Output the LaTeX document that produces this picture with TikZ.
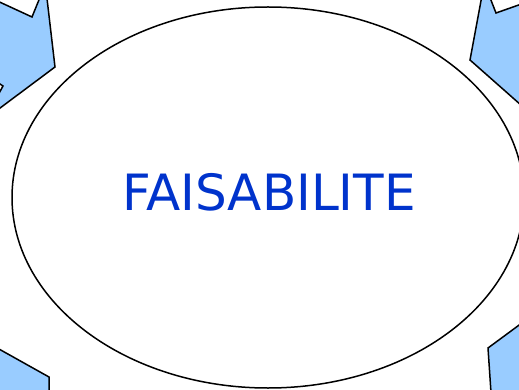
\documentclass[tikz,border=0pt]{standalone}
\usepackage{fontspec}
\setsansfont{DejaVu Sans}
\usetikzlibrary{shapes.geometric}
\definecolor{fblue}{RGB}{0,51,204}
\definecolor{flight}{RGB}{153,204,255}

\begin{document}
\begin{tikzpicture}[x=1pt,y=-1pt,
  fleche/.style={fill=flight,draw=black,line width=1.5pt,line join=miter},
  cadre/.style={ellipse,draw=black,line width=1.5pt,inner sep=0pt,
    minimum width=512pt,minimum height=381pt},
  titre/.style={font=\sffamily\fontsize{50}{50}\selectfont,text=fblue}
]
  \useasboundingbox (0,0) rectangle (519,390);
  \clip (0,0) rectangle (519,390);

  % Arrows at the corners
  \draw[fleche] (-20,-7) -- (32,17) -- (43,-10) -- (46,-10) -- (55,67)
    -- (-20,123) -- (-20,110) -- (-3,97) -- (3,86) -- (-3,82) -- cycle;
  \draw[fleche] (483,-10) -- (470,60) -- (530,113) -- (530,1)
    -- (496,13) -- (487,-10) -- cycle;
  \draw[fleche] (-10,344) -- (49,377) -- (49,400) -- (-10,400) -- cycle;
  \draw[fleche] (530,317) -- (488,348) -- (491.5,400) -- (530,400) -- cycle;

  \node[cadre] (cadre) at (268,197.5) {};
  \node[titre] (titre) at (269,192) {FAISABILITE};
\end{tikzpicture}
\end{document}
